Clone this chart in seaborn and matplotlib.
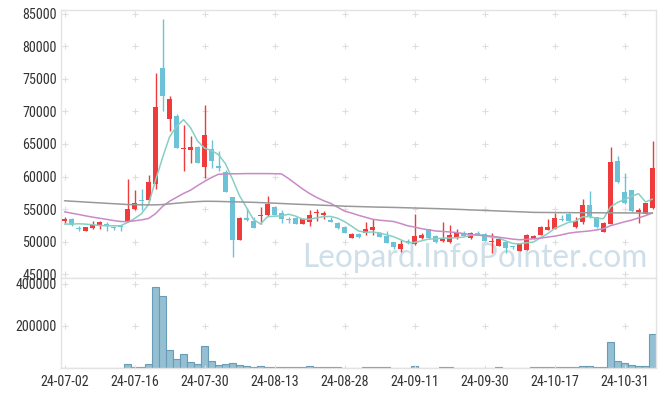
import os
import numpy as np
import pandas as pd
import matplotlib
matplotlib.use('Agg')
import matplotlib.pyplot as plt
from matplotlib import font_manager as fm
import seaborn as sns

# Daily candles (KRX trading days, 24-07-02 .. 24-11-06)
tick_labels = ['24-07-02', '24-07-16', '24-07-30', '24-08-13', '24-08-28',
               '24-09-11', '24-09-30', '24-10-17', '24-10-31']

opens = [53250, 53450, 52050, 51650, 52050, 52450, 52750, 52150, 52350, 53250,
         55000, 56350, 56350, 58900, 76650, 68800, 69350, 64200, 64050, 64550,
         61450, 64200, 61550, 60700, 56850, 50300, 53700, 53250, 53950, 54050,
         55350, 54400, 53500, 53600, 52750, 53000, 54350, 54150, 53350, 52850,
         52250, 50500, 51200, 51300, 51800, 51300, 50800, 49900, 48950, 50050,
         49600, 50500, 51900, 50900, 50100, 49900, 50500, 51400, 50500, 51400,
         51150, 49900, 49400, 50000, 49200, 48600, 48750, 50450, 51050, 51800,
         51900, 53500, 54300, 52250, 53000, 55600, 53750, 51550, 52750, 62350,
         57700, 57950, 54550, 54300, 55150]
highs = [53850, 53650, 52350, 52300, 53250, 53150, 52950, 52450, 52600, 59600,
         57950, 58150, 60300, 75900, 84200, 72400, 69550, 67900, 66150, 64650,
         70950, 65550, 63900, 61050, 56850, 53850, 55150, 53850, 55300, 57050,
         55500, 54800, 53850, 53850, 53600, 54900, 55000, 54650, 53750, 52950,
         52450, 51300, 51400, 53000, 53450, 51550, 51650, 49900, 50200, 50400,
         54300, 51300, 52000, 51000, 52950, 52600, 51900, 51700, 51500, 51700,
         51300, 51300, 50450, 50000, 49400, 49800, 51200, 51000, 52350, 53550,
         54400, 54050, 54400, 53850, 56550, 57850, 53750, 52950, 64500, 63200,
         60550, 57950, 55200, 55900, 65450]
lows = [52900, 52450, 51600, 51600, 51900, 51900, 51700, 51750, 51600, 53150,
        54900, 54900, 56250, 58050, 70100, 67000, 64350, 60900, 62050, 62050,
        59850, 61350, 60900, 57550, 47600, 50300, 53250, 52050, 52750, 53950,
        54100, 52850, 52850, 52700, 52700, 52350, 53150, 53450, 52950, 52000,
        51350, 50500, 50600, 51050, 51050, 50650, 49800, 48900, 48350, 49650,
        49500, 50400, 50400, 49800, 50000, 49800, 50400, 50800, 50400, 51000,
        50050, 48250, 49400, 48250, 48950, 48600, 48750, 50400, 51000, 51800,
        51900, 53250, 53100, 52150, 52750, 53650, 52050, 51450, 52650, 59000,
        55800, 54500, 52850, 54300, 55050]
closes = [53450, 52550, 51950, 52250, 52550, 52950, 52450, 52050, 52250, 55000,
          55950, 56250, 59150, 70700, 72300, 71900, 64350, 64400, 64550, 62150,
          66350, 62450, 61300, 57550, 50300, 53700, 53350, 52100, 54150, 55850,
          54150, 53550, 53400, 52750, 53450, 54050, 54600, 54350, 52950, 52100,
          51400, 51150, 50650, 51950, 52300, 50650, 49800, 49150, 49650, 49950,
          50900, 51000, 50500, 49900, 50400, 51000, 51300, 50900, 51300, 51100,
          50050, 50100, 50350, 49050, 49150, 49650, 51000, 50900, 52250, 52300,
          53650, 53400, 53200, 53200, 55650, 53750, 52200, 52850, 62250, 59100,
          55900, 54700, 54900, 55900, 61300]
volumes = [0, 0, 0, 0, 0, 0, 0, 0, 0, 17500,
           4800, 4800, 17500, 384000, 341000, 85700, 42900, 65000, 27000, 17500,
           103000, 31700, 12700, 17500, 22200, 12700, 7900, 4800, 7900, 4000,
           4000, 4000, 4000, 4000, 4000, 7900, 4000, 4000, 4000, 4000,
           0, 0, 0, 3000, 3000, 3000, 3000, 0, 0, 0,
           7900, 0, 0, 0, 3000, 3000, 0, 0, 0, 0,
           0, 0, 3000, 0, 0, 0, 0, 3000, 3000, 3000,
           3000, 3000, 3000, 3000, 7900, 7900, 3000, 3000, 122000, 31700,
           22200, 12700, 7900, 7900, 160000]

# moving average lines as they appear on the chart
ma5 = [52700, 52700, 52750, 52700, 52600, 52500, 52430, 52450, 52450, 52940,
       53540, 54300, 55720, 59410, 62870, 66060, 67680, 68730, 67500, 65470,
       64360, 63980, 63360, 61960, 59590, 57060, 55240, 53400, 52720, 53830,
       53920, 53960, 54220, 53940, 53460, 53440, 53650, 53850, 53880, 53610,
       53080, 52390, 51650, 51450, 51490, 51340, 51070, 50770, 50310, 49840,
       49890, 50130, 50400, 50450, 50540, 50560, 50620, 50700, 50980, 51120,
       50930, 50690, 50580, 50130, 49740, 49660, 49840, 49950, 50590, 51220,
       52020, 52500, 52960, 53150, 53820, 53840, 53600, 53530, 55340, 56030,
       56460, 56960, 57370, 56100, 56540]
ma20 = [54590, 54380, 54180, 53970, 53770, 53600, 53430, 53250, 53100, 53080,
        53200, 53350, 53560, 54300, 55400, 56200, 56800, 57400, 57900, 58600,
        59250, 59850, 60350, 60400, 60420, 60430, 60450, 60450, 60450, 60450,
        60430, 60400, 59700, 58900, 58100, 57400, 56800, 56300, 55900, 55300,
        54700, 54400, 54050, 53750, 53450, 53300, 53200, 53100, 52800, 52450,
        52250, 52000, 51820, 51650, 51570, 51500, 51400, 51250, 51100, 51000,
        50920, 50850, 50700, 50550, 50400, 50300, 50350, 50450, 50550, 50700,
        50850, 51050, 51300, 51450, 51550, 51650, 51800, 52000, 52450, 52750,
        53050, 53300, 53650, 54000, 54400]
ma60 = [56280, 56210, 56150, 56080, 56020, 55960, 55890, 55830, 55770, 55700,
        55680, 55660, 55650, 55650, 55700, 55800, 55900, 56000, 56080, 56150,
        56200, 56200, 56180, 56150, 56120, 56100, 56070, 56040, 56000, 55960,
        55910, 55860, 55810, 55760, 55720, 55680, 55640, 55590, 55550, 55500,
        55450, 55420, 55390, 55360, 55330, 55300, 55280, 55260, 55230, 55200,
        55170, 55140, 55110, 55080, 55050, 55010, 54970, 54930, 54880, 54840,
        54800, 54760, 54710, 54670, 54630, 54590, 54550, 54500, 54490, 54480,
        54470, 54460, 54460, 54450, 54450, 54440, 54440, 54430, 54430, 54420,
        54420, 54410, 54410, 54400, 54400]

df = pd.DataFrame({'open': opens, 'high': highs, 'low': lows, 'close': closes,
                   'volume': volumes, 'ma5': ma5, 'ma20': ma20, 'ma60': ma60})
df['idx'] = np.arange(len(df))

RED = '#ef3b3b'
BLUE = '#6cc3d8'
GRID = '#dedede'


# the reference uses a narrow face for its labels, take one if there is one
def label_font():
    names = [f.fname for f in fm.fontManager.ttflist]
    for key, size in (('LiberationSansNarrow-Regular', 10.8),
                      ('RobotoCondensed-Regular', 10.2),
                      ('DejaVuSansCondensed.', 9.4)):
        for p in names:
            if os.path.basename(p).startswith(key):
                return fm.FontProperties(fname=p, size=size)
    return fm.FontProperties(family='DejaVu Sans', size=8.2)


sns.set_theme(style='white')
plt.rcParams['font.family'] = ['DejaVu Sans']
fp = label_font()

fig = plt.figure(figsize=(6.65, 3.97), dpi=100)
ax = fig.add_axes([61 / 665, 1 - 278 / 397, 595 / 665, 268 / 397])
ax2 = fig.add_axes([61 / 665, 1 - 368 / 397, 595 / 665, 90 / 397], sharex=ax)

# candles
up = df['close'] >= df['open']
colors = np.where(up, RED, BLUE)
ax.vlines(df['idx'], df['low'], df['high'], colors=colors, linewidth=1.0, zorder=3)
body = (df['close'] - df['open']).abs().clip(lower=130)
bottom = df[['open', 'close']].min(axis=1)
ax.bar(df['idx'], body, bottom=bottom, width=0.62, color=colors, linewidth=0, zorder=3)

# moving averages
sns.lineplot(data=df, x='idx', y='ma5', ax=ax, color='#88cfc3', linewidth=1.1, zorder=4)
sns.lineplot(data=df, x='idx', y='ma20', ax=ax, color='#c98ac6', linewidth=1.1, zorder=4)
sns.lineplot(data=df, x='idx', y='ma60', ax=ax, color='#999999', linewidth=1.1, zorder=4)

# volume
sns.barplot(x=df['idx'], y=df['volume'], ax=ax2, width=1.0, color='#95bfd2',
            saturation=1, edgecolor='#6b9cb5', linewidth=0.8, native_scale=True)

n = len(df)
xt = np.arange(0, n, 10)
for a in (ax, ax2):
    a.set_xlim(-0.5, n - 0.5)
    for s in a.spines.values():
        s.set_color('#e3e3e3')
        s.set_linewidth(1)
    a.tick_params(length=0, labelcolor='#333333', pad=3)
    a.set_xlabel('')
    a.set_ylabel('')

ax.set_ylim(44430, 85550)
yt = np.arange(45000, 85001, 5000)
ax.set_yticks(yt)
ax.set_yticklabels([str(v) for v in yt])
ax.tick_params(axis='x', labelbottom=False)

ax2.set_ylim(0, 428000)
ax2.set_yticks([0, 200000, 400000])
ax2.set_yticklabels(['', '200000', '400000'])
ax2.set_xticks(xt)
ax2.set_xticklabels(tick_labels)
ax2.tick_params(axis='x', pad=5)

for lab in ax.get_yticklabels() + ax2.get_yticklabels() + ax2.get_xticklabels():
    lab.set_fontproperties(fp)

# small "+" markers at grid intersections
for a, ys in ((ax, yt), (ax2, [0, 200000, 400000])):
    gx, gy = np.meshgrid(xt, ys)
    a.scatter(gx.ravel(), gy.ravel(), marker='+', s=18, color=GRID, linewidth=0.8, zorder=1)

ax.text(0.696, 0.018, 'Leopard.InfoPointer.com', transform=ax.transAxes,
        ha='center', va='bottom', fontsize=22.8, color='#cfdfe9',
        family=['Lato', 'DejaVu Sans'], zorder=2)

fig.savefig('out.png', dpi=100, facecolor='white')
